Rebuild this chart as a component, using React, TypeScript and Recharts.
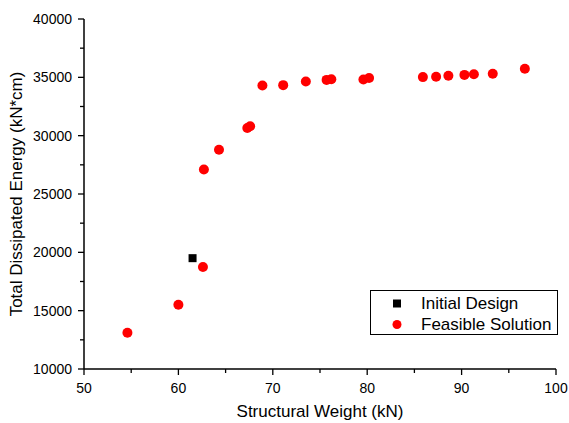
import { ScatterChart, Scatter, XAxis, YAxis } from 'recharts'

const FONT = "Arial, 'Liberation Sans', sans-serif"

// Feasible solutions: structural weight (kN) and total dissipated energy (kN*cm)
const feasibleWeight = [
  54.6, 60.0, 62.6, 62.7, 64.3, 67.3, 67.6, 68.9, 71.1, 73.5, 75.7, 76.2,
  79.6, 80.2, 85.9, 87.3, 88.6, 90.3, 91.3, 93.3, 96.7,
]
const feasibleEnergy = [
  13100, 15500, 18750, 27100, 28800, 30650, 30800, 34300, 34330, 34640, 34780,
  34840, 34820, 34950, 35020, 35050, 35130, 35210, 35270, 35300, 35730,
]

const initialWeight = [61.5]
const initialEnergy = [19500]

const xTicks = [50, 55, 60, 65, 70, 75, 80, 85, 90, 95, 100]
const yTicks = [10000, 12500, 15000, 17500, 20000, 22500, 25000, 27500, 30000, 32500, 35000, 37500, 40000]

const feasible = feasibleWeight.map((w, i) => ({ w, e: feasibleEnergy[i] }))
const initial = initialWeight.map((w, i) => ({ w, e: initialEnergy[i] }))

function XTick({ x, y, payload }: any) {
  const major = payload.value % 10 === 0
  return (
    <g>
      <line x1={x} x2={x} y1={y} y2={y + (major ? 6 : 4)} stroke="#000" strokeWidth={1.3} />
      {major && (
        <text x={x} y={y + 24} textAnchor="middle" fontSize={14} fontFamily={FONT} fill="#000">
          {payload.value}
        </text>
      )}
    </g>
  )
}

function YTick({ x, y, payload }: any) {
  const major = payload.value % 5000 === 0
  return (
    <g>
      <line x1={x} x2={x - (major ? 6 : 4)} y1={y} y2={y} stroke="#000" strokeWidth={1.3} />
      {major && (
        <text x={x - 12} y={y + 5} textAnchor="end" fontSize={14} fontFamily={FONT} fill="#000">
          {payload.value}
        </text>
      )}
    </g>
  )
}

// legend box drawn over the plot, lower right
function LegendBox() {
  return (
    <div
      style={{
        position: 'absolute',
        left: 370,
        top: 290,
        width: 186,
        height: 43,
        border: '1px solid #000',
        background: '#fff',
        fontFamily: FONT,
        fontSize: 17,
        color: '#000',
      }}
    >
      <div style={{ display: 'flex', alignItems: 'center', height: 21, marginTop: 2 }}>
        <svg width={50} height={21}>
          <rect x={22} y={6.5} width={8} height={8} fill="#000" />
        </svg>
        <span>Initial Design</span>
      </div>
      <div style={{ display: 'flex', alignItems: 'center', height: 21 }}>
        <svg width={50} height={21}>
          <circle cx={26} cy={10.5} r={4.5} fill="#ff0000" />
        </svg>
        <span>Feasible Solution</span>
      </div>
    </div>
  )
}

export default function App() {
  return (
    <div style={{ position: 'absolute', left: 0, top: 0, width: 569, height: 423, background: '#fff' }}>
      <ScatterChart width={569} height={423} margin={{ top: 19, right: 13, left: 0, bottom: 0 }}>
        <XAxis
          type="number"
          dataKey="w"
          domain={[50, 100]}
          ticks={xTicks}
          interval={0}
          height={54}
          tickSize={0}
          tickMargin={0}
          tickLine={false}
          tick={<XTick />}
          axisLine={{ stroke: '#000', strokeWidth: 1.5 }}
          label={{
            value: 'Structural Weight (kN)',
            position: 'insideBottom',
            offset: 6,
            style: { fontSize: 17, fontFamily: FONT, fill: '#000' },
          }}
        />
        <YAxis
          type="number"
          dataKey="e"
          domain={[10000, 40000]}
          ticks={yTicks}
          interval={0}
          width={84}
          tickSize={0}
          tickMargin={0}
          tickLine={false}
          tick={<YTick />}
          axisLine={{ stroke: '#000', strokeWidth: 1.5 }}
          label={{
            value: 'Total Dissipated Energy (kN*cm)',
            angle: -90,
            position: 'insideLeft',
            offset: 16,
            style: { fontSize: 17, fontFamily: FONT, fill: '#000', textAnchor: 'middle' },
          }}
        />
        <Scatter
          name="Feasible Solution"
          data={feasible}
          isAnimationActive={false}
          shape={(p: any) => <circle cx={p.cx} cy={p.cy} r={5} fill="#ff0000" />}
        />
        <Scatter
          name="Initial Design"
          data={initial}
          isAnimationActive={false}
          shape={(p: any) => <rect x={p.cx - 4} y={p.cy - 4} width={8} height={8} fill="#000" />}
        />
      </ScatterChart>
      <LegendBox />
    </div>
  )
}
